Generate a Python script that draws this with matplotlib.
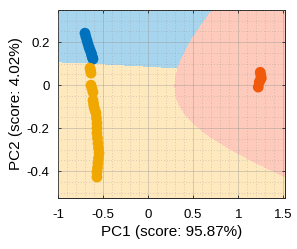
import numpy as np
import matplotlib
matplotlib.use("Agg")
import matplotlib.pyplot as plt
from matplotlib.colors import ListedColormap
from matplotlib.ticker import MultipleLocator

plt.rcParams["font.family"] = ["Liberation Sans", "DejaVu Sans"]

# scores of the three groups
blue_x = [-0.70, -0.69, -0.678, -0.667, -0.656, -0.645, -0.633, -0.627, -0.622, -0.616, -0.611]
blue_y = [0.242, 0.226, 0.209, 0.193, 0.177, 0.165, 0.153, 0.144, 0.135, 0.128, 0.121]
yellow_x = [-0.644, -0.638, -0.633, -0.633, -0.622, -0.611, -0.611, -0.605, -0.600,
            -0.589, -0.578, -0.572, -0.567, -0.567, -0.567, -0.561, -0.556, -0.550,
            -0.544, -0.550, -0.556, -0.561, -0.567, -0.567]
yellow_y = [0.079, 0.068, 0.056, 0.0, -0.016, -0.033, -0.07, -0.086, -0.102,
            -0.116, -0.13, -0.153, -0.177, -0.20, -0.223, -0.246, -0.27, -0.293,
            -0.316, -0.34, -0.363, -0.385, -0.405, -0.428]
red_x = [1.244, 1.25, 1.256, 1.245, 1.233, 1.222]
red_y = [0.06, 0.047, 0.033, 0.024, 0.014, -0.009]

# decision boundaries
line_x = [-1.0, 0.32]
line_y = [0.107, 0.079]
bound_x = [0.71, 0.44, 0.36, 0.30, 0.33, 0.49, 0.52, 1.0, 1.52]
bound_y = [0.35, 0.2, 0.1, -0.01, -0.07, -0.163, -0.21, -0.316, -0.43]

xlim = (-1.0, 1.52)
ylim = (-0.525, 0.35)

fig = plt.figure(figsize=(2.97, 2.49), dpi=100)
ax = fig.add_axes([0.195, 0.205, 0.765, 0.755])

# smooth quadratic boundary fitted through the read points
bx, by = np.array(bound_x), np.array(bound_y)
design = np.column_stack([bx**2, bx * by, by**2, bx, by, np.ones_like(bx)])
coef = np.linalg.svd(design)[2][-1]

def conic(x, y):
    return (coef[0] * x**2 + coef[1] * x * y + coef[2] * y**2
            + coef[3] * x + coef[4] * y + coef[5])

sign = np.sign(conic(red_x[0], red_y[0]))
gx, gy = np.meshgrid(np.linspace(*xlim, 900), np.linspace(*ylim, 600))
slope = (line_y[1] - line_y[0]) / (line_x[1] - line_x[0])
above = gy > line_y[0] + slope * (gx - line_x[0])
label = np.where(above, 0, 1)
label = np.where(sign * conic(gx, gy) > 0, 2, label)
cmap = ListedColormap(["#A8D5EE", "#FEE9BE", "#FDCABB"])
ax.pcolormesh(gx, gy, label, cmap=cmap, vmin=0, vmax=2, shading="auto",
              rasterized=True, zorder=0)

ax.scatter(blue_x, blue_y, s=60, c="#0072BD", edgecolors="none", zorder=3)
ax.scatter(yellow_x, yellow_y, s=60, c="#F0A800", edgecolors="none", zorder=3)
ax.scatter(red_x, red_y, s=60, c="#F05A0A", edgecolors="none", zorder=3)

ax.set_xlim(xlim)
ax.set_ylim(ylim)
ax.xaxis.set_minor_locator(MultipleLocator(0.1))
ax.yaxis.set_minor_locator(MultipleLocator(0.05))
ax.set_yticks([0.2, 0, -0.2, -0.4])
ax.set_yticklabels(["0.2", "0", "-0.2", "-0.4"])
ax.set_xticks([-1, -0.5, 0, 0.5, 1, 1.5])
ax.set_xticklabels(["-1", "-0.5", "0", "0.5", "1", "1.5"])

ax.grid(True, which="major", color="#8c8c8c", linewidth=0.5, alpha=0.5, zorder=1)
ax.grid(True, which="minor", color="#8c8c8c", linewidth=0.5, linestyle=(0, (1, 3)),
        alpha=0.6, zorder=1)
ax.set_axisbelow(False)
ax.tick_params(which="both", direction="in", top=True, right=True, labelsize=9.5,
               length=2.5, width=0.6, color="#262626", pad=6)
ax.tick_params(axis="x", pad=8)
ax.tick_params(which="minor", length=0)
for s in ax.spines.values():
    s.set_linewidth(0.7)
    s.set_color("#262626")

ax.set_xlabel("PC1 (score: 95.87%)", fontsize=11, labelpad=3)
ax.set_ylabel("PC2 (score: 4.02%)", fontsize=11, labelpad=3)

fig.savefig("out.png", dpi=100)
